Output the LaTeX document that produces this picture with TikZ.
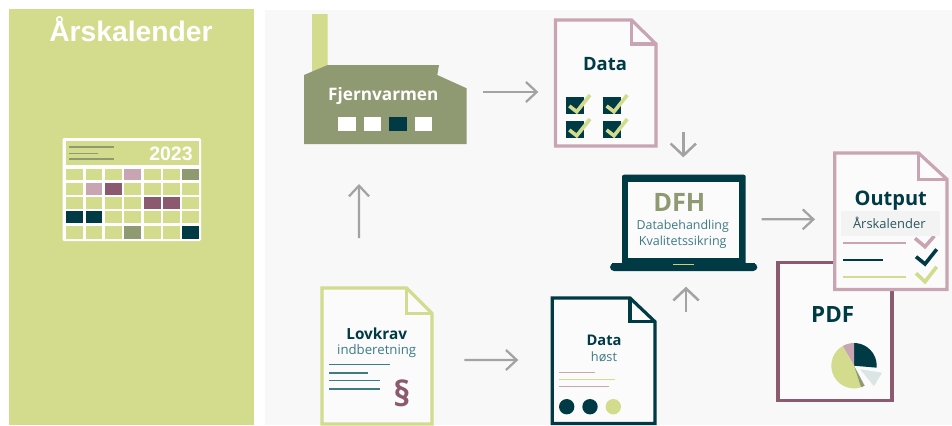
\documentclass[tikz,border=0pt]{standalone}
\usepackage{fontspec}
\setmainfont{Open Sans}
\newfontfamily\arialf{Liberation Sans}
\usetikzlibrary{arrows.meta,fit}
\definecolor{lime}{HTML}{D3DC8D}
\definecolor{olive}{HTML}{8F9A73}
\definecolor{navy}{HTML}{003A45}
\definecolor{rose}{HTML}{C9A4B3}
\definecolor{plum}{HTML}{8C5A6E}
\definecolor{teal}{HTML}{3F7B85}
\definecolor{panel}{HTML}{F8F8F8}
\definecolor{paper}{HTML}{FBFBFB}
\definecolor{band}{HTML}{F3F3F3}
\definecolor{slice}{HTML}{DCE5E5}
\definecolor{arrowgrey}{HTML}{A3A3A3}
\tikzset{
  x=0.75pt,y=-0.75pt,
  bx/.style={inner sep=0pt,outer sep=0pt,draw=none},
  conn/.style={draw=arrowgrey,line width=1.7pt,-{Straight Barb[length=8pt,width=15pt,line width=1.7pt]}},
  wideconn/.style={draw=arrowgrey,line width=1.9pt,-{Straight Barb[length=9pt,width=19pt,line width=1.9pt]}},
  docline/.style={line width=2.4pt,line join=miter},
  tick/.style={line width=2.7pt},
  lab/.style={inner sep=0pt,outer sep=0pt,align=center},
}
\newcommand{\docshape}[7]{% x1 y1 x2 y2 foldx foldy colour
  \draw[docline,draw=#7,fill=paper] (#1,#2) -- (#5,#2) -- (#3,#6) -- (#3,#4) -- (#1,#4) -- cycle;
  \draw[docline,draw=#7] (#5,#2) -- (#5,#6) -- (#3,#6);
}
\begin{document}
\begin{tikzpicture}
\useasboundingbox (0,0) rectangle (952,425);
\fill[white] (0,0) rectangle (952,425);
\fill[panel] (265,10) rectangle (952,425);
\fill[lime] (9,9) rectangle (254,425);
\node[lab,text=white,font=\arialf\bfseries\fontsize{21.2}{24}\selectfont,anchor=base] (title) at (131,41.5) {Årskalender};
% calendar
\fill[white,rounded corners=1pt] (62.5,138) rectangle (201,241);
\fill[lime] (65.5,141) rectangle (198.7,164.5);
\draw[olive,line width=1pt] (69.3,147) -- (114,147) (69.3,153.3) -- (98.3,153.3) (69.3,159) -- (114,159);
\node[lab,text=white,font=\arialf\bfseries\fontsize{14.6}{16}\selectfont] (year) at (171,154) {2023};
\foreach \r/\ya/\yb in {1/168.7/180.3,2/182.7/194.7,3/197.3/208.7,4/211.3/223.3,5/226/238.7}{
  \foreach \c/\xa/\xb in {1/65.5/83.3,2/85.7/102.3,3/104.7/122,4/124.3/141,5/143.7/160.7,6/163.3/180,7/182.3/198.7}{
    \pgfmathtruncatemacro{\k}{10*\r+\c}
    \def\col{lime}
    \ifnum\k=14 \def\col{rose}\fi
    \ifnum\k=17 \def\col{olive}\fi
    \ifnum\k=22 \def\col{rose}\fi
    \ifnum\k=23 \def\col{plum}\fi
    \ifnum\k=35 \def\col{plum}\fi
    \ifnum\k=36 \def\col{plum}\fi
    \ifnum\k=41 \def\col{navy}\fi
    \ifnum\k=42 \def\col{navy}\fi
    \ifnum\k=54 \def\col{olive}\fi
    \ifnum\k=57 \def\col{navy}\fi
    \fill[\col] (\xa,\ya) rectangle (\xb,\yb);
  }
}
% factory
\fill[lime] (312,14) -- (327.5,14) -- (327.7,66) -- (312,73) -- cycle;
\fill[olive] (304,75) -- (327.7,65) -- (439,65) -- (437.3,75) -- (466.7,88.3) -- (466.7,144) -- (304,144) -- cycle;
\node[bx,fit={(304,13)(467,144)}] (factory) {};
\node[lab,text=white,font=\bfseries\fontsize{12.9}{15}\selectfont] (fjern) at (383.3,96) {Fjernvarmen};
\fill[white] (338.3,117.3) rectangle (355.7,131);
\fill[white] (363.7,117.3) rectangle (381,131);
\fill[navy] (389.3,117.3) rectangle (406.7,131);
\fill[white] (415,117.3) rectangle (432.3,131);
% data doc
\docshape{555.5}{20}{656}{146}{631.5}{44}{rose}
\node[bx,fit={(554,19)(657,147)}] (datadoc) {};
\node[lab,text=navy,font=\bfseries\fontsize{13.8}{16}\selectfont] (datalab) at (605,64) {Data};
\foreach \bxx/\byy in {566/96.7,603.3/96.7,566/120.7,603.3/120.7}{
  \fill[navy] (\bxx,\byy) rectangle ++(18,17.3);
  \draw[lime,tick] (\bxx+3.3,\byy+9.3) -- (\bxx+10.7,\byy+15) -- (\bxx+24,\byy-1.7);
}
% laptop
\fill[navy,rounded corners=1.5pt] (622,174.7) rectangle (745.7,268);
\fill[navy,rounded corners=3pt] (610,263.3) -- (757.3,263.3) -- (757.3,271) -- (610,271) -- cycle;
\fill[navy] (612,263.3) rectangle (755,267);
\fill[paper] (628.3,181.7) rectangle (739.3,258.3);
\draw[lime!80!orange,line width=1pt] (673.3,264.6) -- (694.3,264.6);
\node[bx,fit={(610,174.7)(757.3,271)}] (laptop) {};
\node[lab,text=olive,font=\bfseries\fontsize{19}{22}\selectfont] (dfh) at (679.3,202.3) {DFH};
\node[lab,text=teal,font=\fontsize{9.3}{11}\selectfont] (dbh) at (682.7,226.3) {Databehandling};
\node[lab,text=teal,font=\fontsize{9.4}{11}\selectfont] (kvs) at (682.7,242.3) {Kvalitetssikring};
% PDF doc
\draw[docline,draw=plum,fill=paper] (778,262.5) rectangle (892,400.5);
\node[bx,fit={(776.7,261)(893.3,401.7)}] (pdfdoc) {};
\node[lab,text=navy,font=\bfseries\fontsize{16.8}{19}\selectfont] (pdflab) at (832.7,314.3) {PDF};
\begin{scope}[shift={(854,365.7)},yscale=-1]
  \fill[navy] (0,0) -- (90:22.7) arc[start angle=90,end angle=-5,radius=22.7] -- cycle;
  \fill[rose] (0,0) -- (120:22.7) arc[start angle=120,end angle=90,radius=22.7] -- cycle;
  \fill[lime] (0,0) -- (288:22.7) arc[start angle=288,end angle=120,radius=22.7] -- cycle;
  \fill[olive] (0,0) -- (298:22.7) arc[start angle=298,end angle=288,radius=22.7] -- cycle;
  \fill[slice] (6,-3.5) -- (28,-7) -- (20,-20.5) -- cycle;
\end{scope}
% output doc
\docshape{834.8}{153}{947}{289.5}{918.5}{179.3}{rose}
\node[bx,fit={(833.3,151.7)(948.3,291)}] (outdoc) {};
\draw[rose,tick] (915,238.3) -- (925,246.7) -- (934.3,236);
\fill[band] (841,211) rectangle (940,236);
\node[lab,text=navy,font=\bfseries\fontsize{15}{18}\selectfont] (outlab) at (890.7,200.7) {Output};
\node[lab,text=teal!70!black,font=\fontsize{9.7}{11}\selectfont] (arsk) at (889.3,222.7) {Årskalender};
\draw[rose,line width=1.4pt] (843.3,242.7) -- (905.7,242.7);
\draw[navy,line width=1.2pt] (843.3,260) -- (883.3,260);
\draw[lime,line width=1.4pt] (843.3,277.3) -- (905.7,277.3);
\draw[navy,tick] (916,256.7) -- (925,264) -- (936.7,249.3);
\draw[lime,tick] (916,273.3) -- (925,281.7) -- (936.7,266.7);
% Lovkrav doc
\docshape{322}{288}{432}{424}{406.5}{313.3}{lime}
\node[bx,fit={(320.7,286.7)(433.3,425)}] (lovdoc) {};
\node[lab,text=navy,font=\bfseries\fontsize{11.5}{13}\selectfont] (lov) at (376.7,334) {Lovkrav};
\node[lab,text=teal,font=\fontsize{9.9}{12}\selectfont] (ind) at (376.7,351) {indberetning};
\draw[teal,line width=1.2pt] (329.3,364.3) -- (390,364.3) (329.3,372.7) -- (368.3,372.7) (329.3,380.3) -- (380,380.3) (329.3,389) -- (380,389);
\node[lab,text=plum,font=\bfseries\fontsize{26}{28}\selectfont] (para) at (401.7,393.3) {§};
% Data høst doc
\docshape{552.2}{298}{655}{423.5}{630}{321.7}{navy}
\node[bx,fit={(550.7,296.7)(656.5,425)}] (hostdoc) {};
\node[lab,text=navy,font=\bfseries\fontsize{11}{13}\selectfont] (data2) at (604,340) {Data};
\node[lab,text=teal,font=\fontsize{9.6}{12}\selectfont] (host) at (604,356.7) {høst};
\draw[rose,line width=1pt] (559.3,372.3) -- (595,372.3) (559.3,386.7) -- (609,386.7);
\draw[lime,line width=1pt] (559.3,379.3) -- (615,379.3);
\fill[navy] (566.7,406.7) circle[radius=7.7];
\fill[navy] (590,406.7) circle[radius=7.7];
\fill[lime] (613.3,406.7) circle[radius=7.7];
% connectors
\draw[conn] ([shift={(16.3,13.5)}]factory.east) -- ([shift={(-15.7,9)}]datadoc.west);
\draw[wideconn] ([shift={(77.8,-15.3)}]datadoc.south) -- ([shift={(-0.35,-17.4)}]laptop.north);
\draw[conn] ([shift={(4.4,-3.55)}]laptop.east) -- ([shift={(-18.3,-2)}]outdoc.west);
\draw[conn] ([shift={(-18,-48.7)}]lovdoc.north) -- ([shift={(-26.5,40)}]factory.south);
\draw[conn] ([shift={(31,4.15)}]lovdoc.east) -- ([shift={(-32.4,-0.85)}]hostdoc.west);
\draw[wideconn] ([shift={(82.4,15)}]hostdoc.north) -- ([shift={(2.35,15.7)}]laptop.south);
\end{tikzpicture}
\end{document}
